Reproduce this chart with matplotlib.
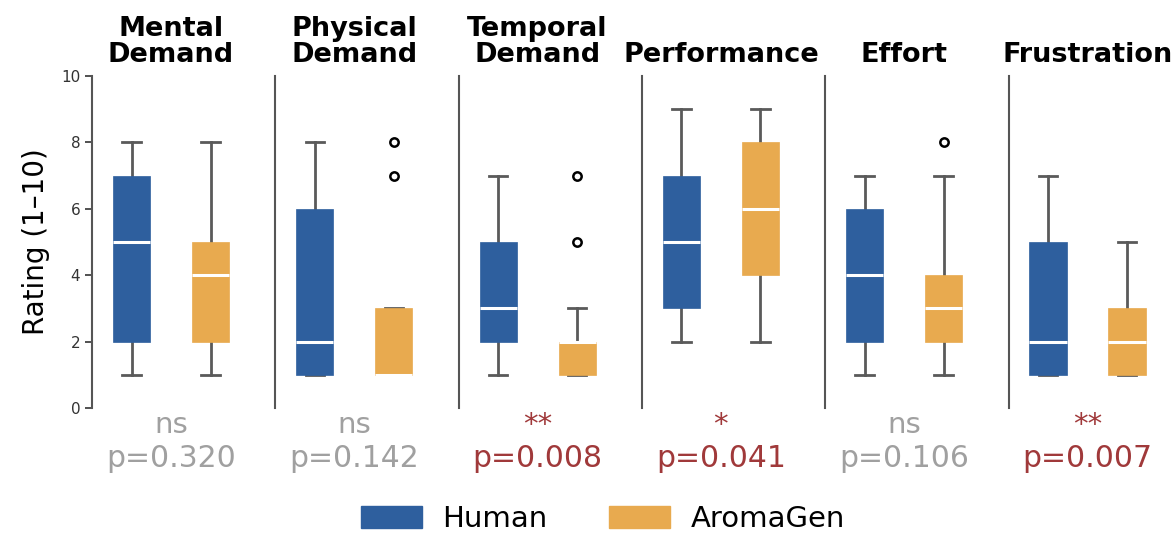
import matplotlib
matplotlib.use("Agg")
import matplotlib.pyplot as plt
from matplotlib.patches import Patch

# NASA-TLX dimensions
dimensions = ["Mental\nDemand", "Physical\nDemand", "Temporal\nDemand",
              "Performance", "Effort", "Frustration"]

# box stats: (whislo, q1, med, q3, whishi)
human_lo = [1, 1, 1, 2, 1, 1]
human_q1 = [2, 1, 2, 3, 2, 1]
human_med = [5, 2, 3, 5, 4, 2]
human_q3 = [7, 6, 5, 7, 6, 5]
human_hi = [8, 8, 7, 9, 7, 7]
human_fliers = [[], [], [], [], [], []]

aroma_lo = [1, 1, 1, 2, 1, 1]
aroma_q1 = [2, 1, 1, 4, 2, 1]
aroma_med = [4, 1, 2, 6, 3, 2]
aroma_q3 = [5, 3, 2, 8, 4, 3]
aroma_hi = [8, 3, 3, 9, 7, 5]
aroma_fliers = [[], [7, 8], [5, 7], [], [8], []]

sig_labels = ["ns", "ns", "**", "*", "ns", "**"]
p_values = [0.320, 0.142, 0.008, 0.041, 0.106, 0.007]

BLUE = "#2e5f9e"
ORANGE = "#e8aa4f"
GRAY_TXT = "#a0a0a0"
RED_TXT = "#a0393a"

fig = plt.figure(figsize=(11.75, 5.33), dpi=100)

left0 = 92 / 1175
step = 183.3 / 1175
width = 158 / 1175
bottom = 125 / 533
height = 332 / 533


def stats(lo, q1, med, q3, hi, fl):
    return {"whislo": lo, "q1": q1, "med": med, "q3": q3, "whishi": hi, "fliers": fl}


for i, name in enumerate(dimensions):
    ax = fig.add_axes([left0 + i * step, bottom, width, height])
    data = [stats(human_lo[i], human_q1[i], human_med[i], human_q3[i], human_hi[i], human_fliers[i]),
            stats(aroma_lo[i], aroma_q1[i], aroma_med[i], aroma_q3[i], aroma_hi[i], aroma_fliers[i])]
    bp = ax.bxp(data, positions=[0, 1], widths=0.47, patch_artist=True,
                medianprops=dict(color="white", linewidth=2.2),
                whiskerprops=dict(color="#5a5a5a", linewidth=2),
                capprops=dict(color="#5a5a5a", linewidth=2),
                flierprops=dict(marker="o", markerfacecolor="none",
                                markeredgecolor="black", markersize=6, markeredgewidth=1.8))
    for patch, c in zip(bp["boxes"], [BLUE, ORANGE]):
        patch.set_facecolor(c)
        patch.set_edgecolor(c)
        patch.set_linewidth(0.5)
    for w in bp["whiskers"] + bp["caps"]:
        w.set_zorder(1)

    ax.set_xlim(-0.5, 1.5)
    ax.set_ylim(0, 10)
    ax.set_xticks([])
    for s in ["top", "right", "bottom"]:
        ax.spines[s].set_visible(False)
    ax.spines["left"].set_color("#555555")
    ax.spines["left"].set_linewidth(1.5)
    ax.set_title(name, fontsize=19.5, fontweight="bold", pad=10, linespacing=1.0)

    if i == 0:
        ax.set_yticks([0, 2, 4, 6, 8, 10])
        ax.tick_params(axis="y", labelsize=11, colors="#333333", width=1.2, length=5)
        ax.set_ylabel("Rating (1–10)", fontsize=20, labelpad=8)
    else:
        ax.set_yticks([])

    col = GRAY_TXT if sig_labels[i] == "ns" else RED_TXT
    ax.text(0.5, -0.05, sig_labels[i], transform=ax.transAxes, ha="center", va="center",
            fontsize=21, color=col)
    ax.text(0.5, -0.152, "p=%.3f" % p_values[i], transform=ax.transAxes, ha="center", va="center",
            fontsize=21.5, color=col)

handles = [Patch(facecolor=BLUE, edgecolor=BLUE, label="Human"),
           Patch(facecolor=ORANGE, edgecolor=ORANGE, label="AromaGen")]
fig.legend(handles=handles, loc="center", bbox_to_anchor=(603 / 1175, 14 / 533), ncol=2,
           frameon=False, fontsize=21, handlelength=2.1, handleheight=0.75,
           handletextpad=0.7, columnspacing=2.1)

fig.savefig("out.png", dpi=100)
